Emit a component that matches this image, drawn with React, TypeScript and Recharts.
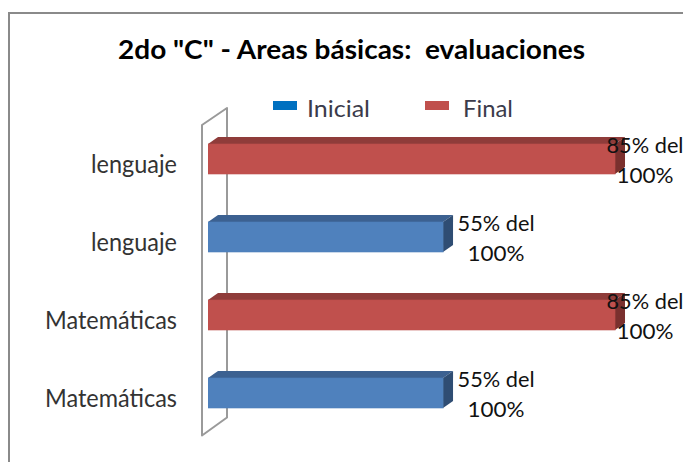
import React from 'react';
import { BarChart, Bar, XAxis, YAxis, Legend, LabelList, ReferenceArea } from 'recharts';

// ---- data ----
const categories = ['lenguaje', 'lenguaje', 'Matemáticas', 'Matemáticas'];
const inicialValues = [null, 55, null, 55];
const finalValues = [85, null, 85, null];
const seriesNames = ['Inicial', 'Final'];
const title = '2do "C" - Areas básicas:  evaluaciones';
const axisDomain = [14, 100];

const data = categories.map((c, i) => ({
  id: i,
  name: c,
  Inicial: inicialValues[i],
  Final: finalValues[i],
}));

// ---- styles ----
const FONT = 'Lato, "Open Sans", sans-serif';
const VISIBLE_W = 675;
const VISIBLE_H = 454;
const CHART_W = 700;
const DX = 10;
const DY = 7;

const COLORS = {
  Inicial: { front: '#4F81BD', top: '#3C6191', side: '#2F4D73', legend: '#0070C0' },
  Final: { front: '#C0504D', top: '#8F3C3A', side: '#7A302E', legend: '#C0504D' },
};

const make3DBar = (key: 'Inicial' | 'Final') => (props: any) => {
  const { x, y, width, height } = props;
  if (!width || width <= 0 || height == null) return null;
  const c = COLORS[key];
  return (
    <g>
      <polygon
        points={`${x},${y} ${x + DX},${y - DY} ${x + width + DX},${y - DY} ${x + width},${y}`}
        fill={c.top}
      />
      <polygon
        points={`${x + width},${y} ${x + width + DX},${y - DY} ${x + width + DX},${y + height - DY} ${x + width},${y + height}`}
        fill={c.side}
      />
      <rect x={x} y={y} width={width} height={height} fill={c.front} stroke={c.front} strokeOpacity={0.6} />
    </g>
  );
};

const Wall = (props: any) => {
  const { x, y, height } = props;
  const L = x;
  const T = y;
  const B = y + height;
  const pts = `${L + 19},${T - 12} ${L - 6},${T + 5} ${L - 6},${B + 3.5} ${L + 19},${B - 14.5}`;
  return (
    <g>
      <polygon points={pts} fill="#fff" stroke="#9a9a9a" strokeWidth={2} strokeLinejoin="round" />
    </g>
  );
};

const makeLabel = () => (props: any) => {
  const { x, y, width, height, value } = props;
  if (value == null || !width) return null;
  const right = x + width + DX;
  const cx = Math.min(right + 43, VISIBLE_W - 38);
  const cy = y + height / 2;
  return (
    <g>
      <text x={cx} y={cy - 6} textAnchor="middle" fontFamily={FONT} fontSize={22} fill="#111" textLength={77} lengthAdjust="spacingAndGlyphs">
        {`${value}% del`}
      </text>
      <text x={cx} y={cy + 24} textAnchor="middle" fontFamily={FONT} fontSize={22} fill="#111" textLength={57} lengthAdjust="spacingAndGlyphs">
        100%
      </text>
    </g>
  );
};

const CategoryTick = (props: any) => {
  const { y, payload } = props;
  const label = categories[payload.value];
  const len = label.length > 9 ? 132 : 86;
  return (
    <text x={169} y={y + 14} textAnchor="end" fontFamily={FONT} fontSize={25} fill="#333" textLength={len} lengthAdjust="spacingAndGlyphs">
      {label}
    </text>
  );
};

const legendPos: Record<string, { rx: number; tx: number; tl: number }> = {
  Inicial: { rx: 265, tx: 299, tl: 63 },
  Final: { rx: 417, tx: 455, tl: 50 },
};

const LegendContent = (props: any) => {
  const payload = props.payload || [];
  return (
    <svg width={VISIBLE_W} height={40} style={{ display: 'block' }}>
      {payload.map((p: any) => {
        const name = p.value as 'Inicial' | 'Final';
        const pos = legendPos[name];
        if (!pos) return null;
        return (
          <g key={name}>
            <rect x={pos.rx} y={11} width={24} height={9} fill={COLORS[name].legend} />
            <text x={pos.tx} y={27} fontFamily={FONT} fontSize={23} fill="#3b3b4b" textLength={pos.tl} lengthAdjust="spacingAndGlyphs">
              {name}
            </text>
          </g>
        );
      })}
    </svg>
  );
};

export default function App() {
  return (
    <div
      style={{
        position: 'fixed',
        left: 0,
        top: 0,
        width: VISIBLE_W + 8,
        height: VISIBLE_H + 8,
        overflow: 'hidden',
        background: '#fff',
      }}
    >
      <div
        style={{
          position: 'absolute',
          left: 8,
          top: 8,
          width: VISIBLE_W,
          height: VISIBLE_H,
          overflow: 'hidden',
        }}
      >
        <div
          style={{
            position: 'absolute',
            left: 0,
            top: 4,
            width: VISIBLE_W + 20,
            height: VISIBLE_H + 20,
            borderLeft: '2px solid #8a8a8a',
            borderTop: '2px solid #8a8a8a',
            boxSizing: 'border-box',
          }}
        />
        <svg width={VISIBLE_W} height={70} style={{ position: 'absolute', left: 0, top: 0 }}>
          <text
            x={343.5}
            y={51}
            textAnchor="middle"
            fontFamily={FONT}
            fontWeight="bold"
            fontSize={27}
            fill="#000"
            textLength={467}
            lengthAdjust="spacingAndGlyphs"
            style={{ whiteSpace: 'pre' }}
          >
            {title}
          </text>
        </svg>
        <div style={{ position: 'absolute', left: 0, top: 0 }}>
          <BarChart
            width={CHART_W}
            height={VISIBLE_H}
            data={data}
            layout="vertical"
            margin={{ top: 112, right: 7, bottom: 30, left: 0 }}
            barSize={30}
            barGap={-30}
          >
            <XAxis type="number" domain={axisDomain} allowDataOverflow hide />
            <YAxis
              type="category"
              dataKey="id"
              width={200}
              axisLine={false}
              tickLine={false}
              tickSize={0}
              tick={<CategoryTick />}
              interval={0}
            />
            <ReferenceArea
              x1={axisDomain[0]}
              x2={axisDomain[1]}
              y1={0}
              y2={3}
              ifOverflow="visible"
              shape={<Wall />}
            />
            <Legend
              verticalAlign="middle"
              align="center"
              layout="horizontal"
              content={<LegendContent />}
              wrapperStyle={{ position: 'absolute', top: 82, left: 0, width: VISIBLE_W, height: 40 }}
            />
            <Bar dataKey="Inicial" name={seriesNames[0]} fill={COLORS.Inicial.front} shape={make3DBar('Inicial')} isAnimationActive={false}>
              <LabelList dataKey="Inicial" content={makeLabel()} />
            </Bar>
            <Bar dataKey="Final" name={seriesNames[1]} fill={COLORS.Final.front} shape={make3DBar('Final')} isAnimationActive={false}>
              <LabelList dataKey="Final" content={makeLabel()} />
            </Bar>
          </BarChart>
        </div>
      </div>
    </div>
  );
}
